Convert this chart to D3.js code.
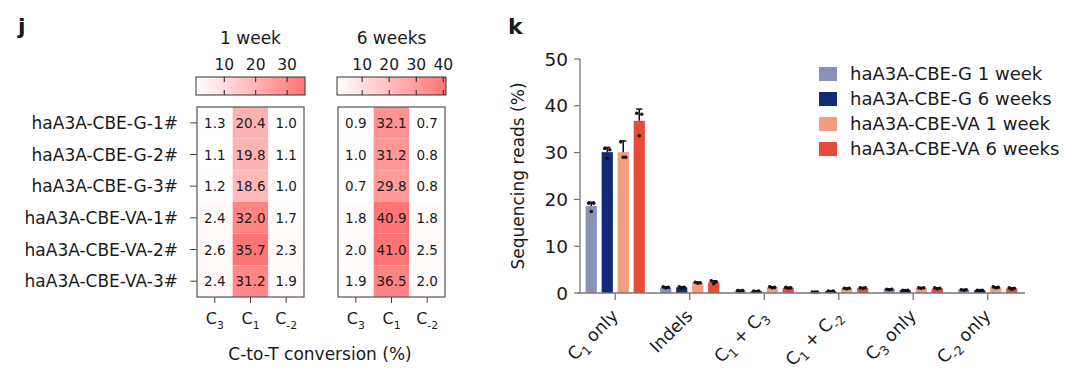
<!DOCTYPE html>
<html><head><meta charset="utf-8">
<script src="https://cdn.jsdelivr.net/npm/d3@7"></script>
<style>
body{margin:0;background:#fff;}
svg text{font-family:"DejaVu Sans",sans-serif;fill:#1a1a1a;}
</style></head><body>
<svg id="c" width="1075" height="376"></svg>
<script>
// ---------- data ----------
const rowLabels = ["haA3A-CBE-G-1#","haA3A-CBE-G-2#","haA3A-CBE-G-3#","haA3A-CBE-VA-1#","haA3A-CBE-VA-2#","haA3A-CBE-VA-3#"];
const colKeys = ["C3","C1","C-2"];
const colBase = ["C","C","C"];
const colSub = ["3","1","-2"];
const week1 = [[1.3,20.4,1.0],[1.1,19.8,1.1],[1.2,18.6,1.0],[2.4,32.0,1.7],[2.6,35.7,2.3],[2.4,31.2,1.9]];
const week6 = [[0.9,32.1,0.7],[1.0,31.2,0.8],[0.7,29.8,0.8],[1.8,40.9,1.8],[2.0,41.0,2.5],[1.9,36.5,2.0]];
const cbTicks1 = [10,20,30];
const cbTicks6 = [10,20,30,40];
const panelTitles = ["1 week","6 weeks"];

const categories = ["C1 only","Indels","C1 + C3","C1 + C-2","C3 only","C-2 only"];
const seriesNames = ["haA3A-CBE-G 1 week","haA3A-CBE-G 6 weeks","haA3A-CBE-VA 1 week","haA3A-CBE-VA 6 weeks"];
const seriesColors = ["#8892b6","#132a78","#f39d80","#e64a39"];
const g1w = [18.6,1.2,0.5,0.2,0.8,0.7];
const g6w = [30.1,1.2,0.4,0.4,0.6,0.6];
const va1w = [30.1,2.2,1.2,1.0,1.1,1.2];
const va6w = [36.8,2.3,1.1,1.1,1.0,1.0];
const g1wErr = [0.8,0.1,0.05,0.05,0.05,0.05];
const g6wErr = [1.0,0.1,0.05,0.05,0.05,0.05];
const va1wErr = [2.4,0.1,0.1,0.05,0.05,0.1];
const va6wErr = [2.5,0.3,0.1,0.05,0.1,0.1];
const g1wDots = [[19.2,19.2,17.4],[1.3,1.2,1.1],[0.5,0.5,0.4],[0.2,0.2,0.2],[0.8,0.8,0.7],[0.7,0.7,0.6]];
const g6wDots = [[30.9,30.6,28.8],[1.3,1.2,1.0],[0.4,0.4,0.3],[0.4,0.4,0.3],[0.6,0.6,0.5],[0.6,0.6,0.5]];
const va1wDots = [[32.3,29.0,29.0],[2.3,2.2,2.1],[1.3,1.2,1.1],[1.0,1.0,0.9],[1.1,1.1,1.0],[1.3,1.2,1.1]];
const va6wDots = [[38.4,38.2,33.6],[2.6,2.4,2.0],[1.2,1.1,1.0],[1.1,1.1,1.0],[1.1,1.0,0.9],[1.1,1.0,0.8]];
const yTicks = [0,10,20,30,40,50];

// ---------- drawing ----------
const svg = d3.select("#c");
const tickCol = "#444";

svg.append("text").attr("x",18).attr("y",34).attr("font-size",22).attr("font-weight","bold").text("j");
svg.append("text").attr("x",508).attr("y",34).attr("font-size",22).attr("font-weight","bold").text("k");

function subLabel(sel, base, sub, size){
  sel.append("tspan").text(base);
  sel.append("tspan").attr("font-size",size*0.68).attr("dy",size*0.32).text(sub);
}

const yRow = d3.scaleBand().domain(rowLabels).range([107,297]);
const heat = [
  {data:week1, x0:197, x1:304, cb:cbTicks1, title:panelTitles[0]},
  {data:week6, x0:338, x1:445, cb:cbTicks6, title:panelTitles[1]}
];
heat.forEach((h,hi)=>{
  const flat = h.data.flat();
  const ext = d3.extent(flat);
  const color = d3.scaleLinear().domain(ext).range(["#ffffff","#ff7575"]);
  const x = d3.scaleBand().domain(colKeys).range([h.x0,h.x1]);
  const g = svg.append("g");
  g.append("text").attr("x",(h.x0+h.x1)/2).attr("y",44).attr("text-anchor","middle").attr("font-size",17).text(h.title);
  const cbx = d3.scaleLinear().domain(ext).range([h.x0-1,h.x1+1]);
  const gid = "grad"+hi;
  const grad = svg.append("defs").append("linearGradient").attr("id",gid);
  grad.append("stop").attr("offset","0%").attr("stop-color",color(ext[0]));
  grad.append("stop").attr("offset","100%").attr("stop-color",color(ext[1]));
  g.append("rect").attr("x",cbx.range()[0]).attr("y",77).attr("width",cbx.range()[1]-cbx.range()[0]).attr("height",18)
    .attr("fill",`url(#${gid})`).attr("stroke","#333").attr("stroke-width",1);
  h.cb.forEach(t=>{
    const xx = cbx(t);
    g.append("line").attr("x1",xx).attr("x2",xx).attr("y1",77).attr("y2",82).attr("stroke","#222");
    g.append("line").attr("x1",xx).attr("x2",xx).attr("y1",90).attr("y2",95).attr("stroke","#222");
    g.append("text").attr("x",xx).attr("y",70).attr("text-anchor","middle").attr("font-size",15.5).text(t);
  });
  h.data.forEach((row,ri)=>{
    row.forEach((v,ci)=>{
      g.append("rect").attr("x",x(colKeys[ci])).attr("y",yRow(rowLabels[ri]))
        .attr("width",x.bandwidth()).attr("height",yRow.bandwidth()).attr("fill",color(v));
      g.append("text").attr("x",x(colKeys[ci])+x.bandwidth()/2).attr("y",yRow(rowLabels[ri])+yRow.bandwidth()/2+5)
        .attr("text-anchor","middle").attr("font-size",13.5).text(v.toFixed(1));
    });
  });
  g.append("rect").attr("x",h.x0).attr("y",107).attr("width",h.x1-h.x0).attr("height",190)
    .attr("fill","none").attr("stroke","#555").attr("stroke-width",1.2);
  colKeys.forEach((k,ci)=>{
    const xx = x(k)+x.bandwidth()/2;
    g.append("line").attr("x1",xx).attr("x2",xx).attr("y1",297).attr("y2",303).attr("stroke",tickCol);
    const t = g.append("text").attr("x",xx).attr("y",324).attr("text-anchor","middle").attr("font-size",16);
    subLabel(t,colBase[ci],colSub[ci],16);
  });
  if(hi===0){
    rowLabels.forEach(r=>{
      const yy = yRow(r)+yRow.bandwidth()/2;
      g.append("line").attr("x1",h.x0-7).attr("x2",h.x0).attr("y1",yy).attr("y2",yy).attr("stroke",tickCol);
      g.append("text").attr("x",178).attr("y",yy+6).attr("text-anchor","end").attr("font-size",17).text(r);
    });
  }
});
svg.append("text").attr("x",320).attr("y",360).attr("text-anchor","middle").attr("font-size",17).text("C-to-T conversion (%)");

// ---------- bar chart ----------
const means = [g1w,g6w,va1w,va6w];
const errs = [g1wErr,g6wErr,va1wErr,va6wErr];
const dots = [g1wDots,g6wDots,va1wDots,va6wDots];
const xb = d3.scaleBand().domain(categories).range([578,1025]);
const xs = d3.scaleBand().domain(seriesNames).range([-32,32]).paddingInner(0.3).paddingOuter(0.15);
const yb = d3.scaleLinear().domain([0,50]).range([293,59]);
const gb = svg.append("g");
gb.append("line").attr("x1",580).attr("x2",580).attr("y1",yb(50)).attr("y2",yb(0)).attr("stroke","#777").attr("stroke-width",1.3);
yTicks.forEach(t=>{
  gb.append("line").attr("x1",574).attr("x2",580).attr("y1",yb(t)).attr("y2",yb(t)).attr("stroke","#777").attr("stroke-width",1.3);
  gb.append("text").attr("x",568).attr("y",yb(t)+6.5).attr("text-anchor","end").attr("font-size",18.5).text(t);
});
gb.append("text").attr("transform",`translate(524,${(yb(0)+yb(50))/2}) rotate(-90)`).attr("text-anchor","middle").attr("font-size",17).text("Sequencing reads (%)");
categories.forEach((c,ci)=>{
  const cx = xb(c)+xb.bandwidth()/2;
  seriesNames.forEach((s,si)=>{
    const bx = cx+xs(s);
    const w = xs.bandwidth();
    const v = means[si][ci];
    gb.append("rect").attr("x",bx).attr("y",yb(v)).attr("width",w).attr("height",yb(0)-yb(v)).attr("fill",seriesColors[si]);
    const top = v+errs[si][ci];
    const mx = bx+w/2;
    gb.append("line").attr("x1",mx).attr("x2",mx).attr("y1",yb(v)).attr("y2",yb(top)).attr("stroke","#111").attr("stroke-width",1.5);
    gb.append("line").attr("x1",mx-3).attr("x2",mx+3).attr("y1",yb(top)).attr("y2",yb(top)).attr("stroke","#111").attr("stroke-width",1.5);
    const offs = [-2.5,2.5,0];
    dots[si][ci].forEach((d,di)=>{
      gb.append("circle").attr("cx",mx+offs[di]).attr("cy",yb(d)).attr("r",1.8).attr("fill","#111");
    });
  });
});
gb.append("line").attr("x1",578).attr("x2",1025).attr("y1",yb(0)).attr("y2",yb(0)).attr("stroke","#777").attr("stroke-width",1.3);
const catParts = [
  [["C",""],["1","s"],[" only",""]],
  [["Indels",""]],
  [["C",""],["1","s"],[" + C",""],["3","s"]],
  [["C",""],["1","s"],[" + C",""],["-2","s"]],
  [["C",""],["3","s"],[" only",""]],
  [["C",""],["-2","s"],[" only",""]]
];
categories.forEach((c,ci)=>{
  const cx = xb(c)+xb.bandwidth()/2;
  gb.append("line").attr("x1",cx).attr("x2",cx).attr("y1",yb(0)).attr("y2",yb(0)+7).attr("stroke","#777").attr("stroke-width",1.3);
  const t = gb.append("text").attr("transform",`translate(${cx+4},${yb(0)+24}) rotate(-45)`).attr("text-anchor","end").attr("font-size",17.5);
  let prevSub=false;
  catParts[ci].forEach(p=>{
    const sp = t.append("tspan").text(p[0]);
    if(p[1]==="s"){ sp.attr("font-size",12.5).attr("dy",5); prevSub=true; }
    else if(prevSub){ sp.attr("dy",-5); prevSub=false; }
  });
});
seriesNames.forEach((s,si)=>{
  const yy = 74+si*25;
  gb.append("rect").attr("x",819).attr("y",yy-7).attr("width",18).attr("height",14).attr("fill",seriesColors[si]);
  gb.append("text").attr("x",850).attr("y",yy+6).attr("font-size",18).text(s);
});
</script></body></html>
